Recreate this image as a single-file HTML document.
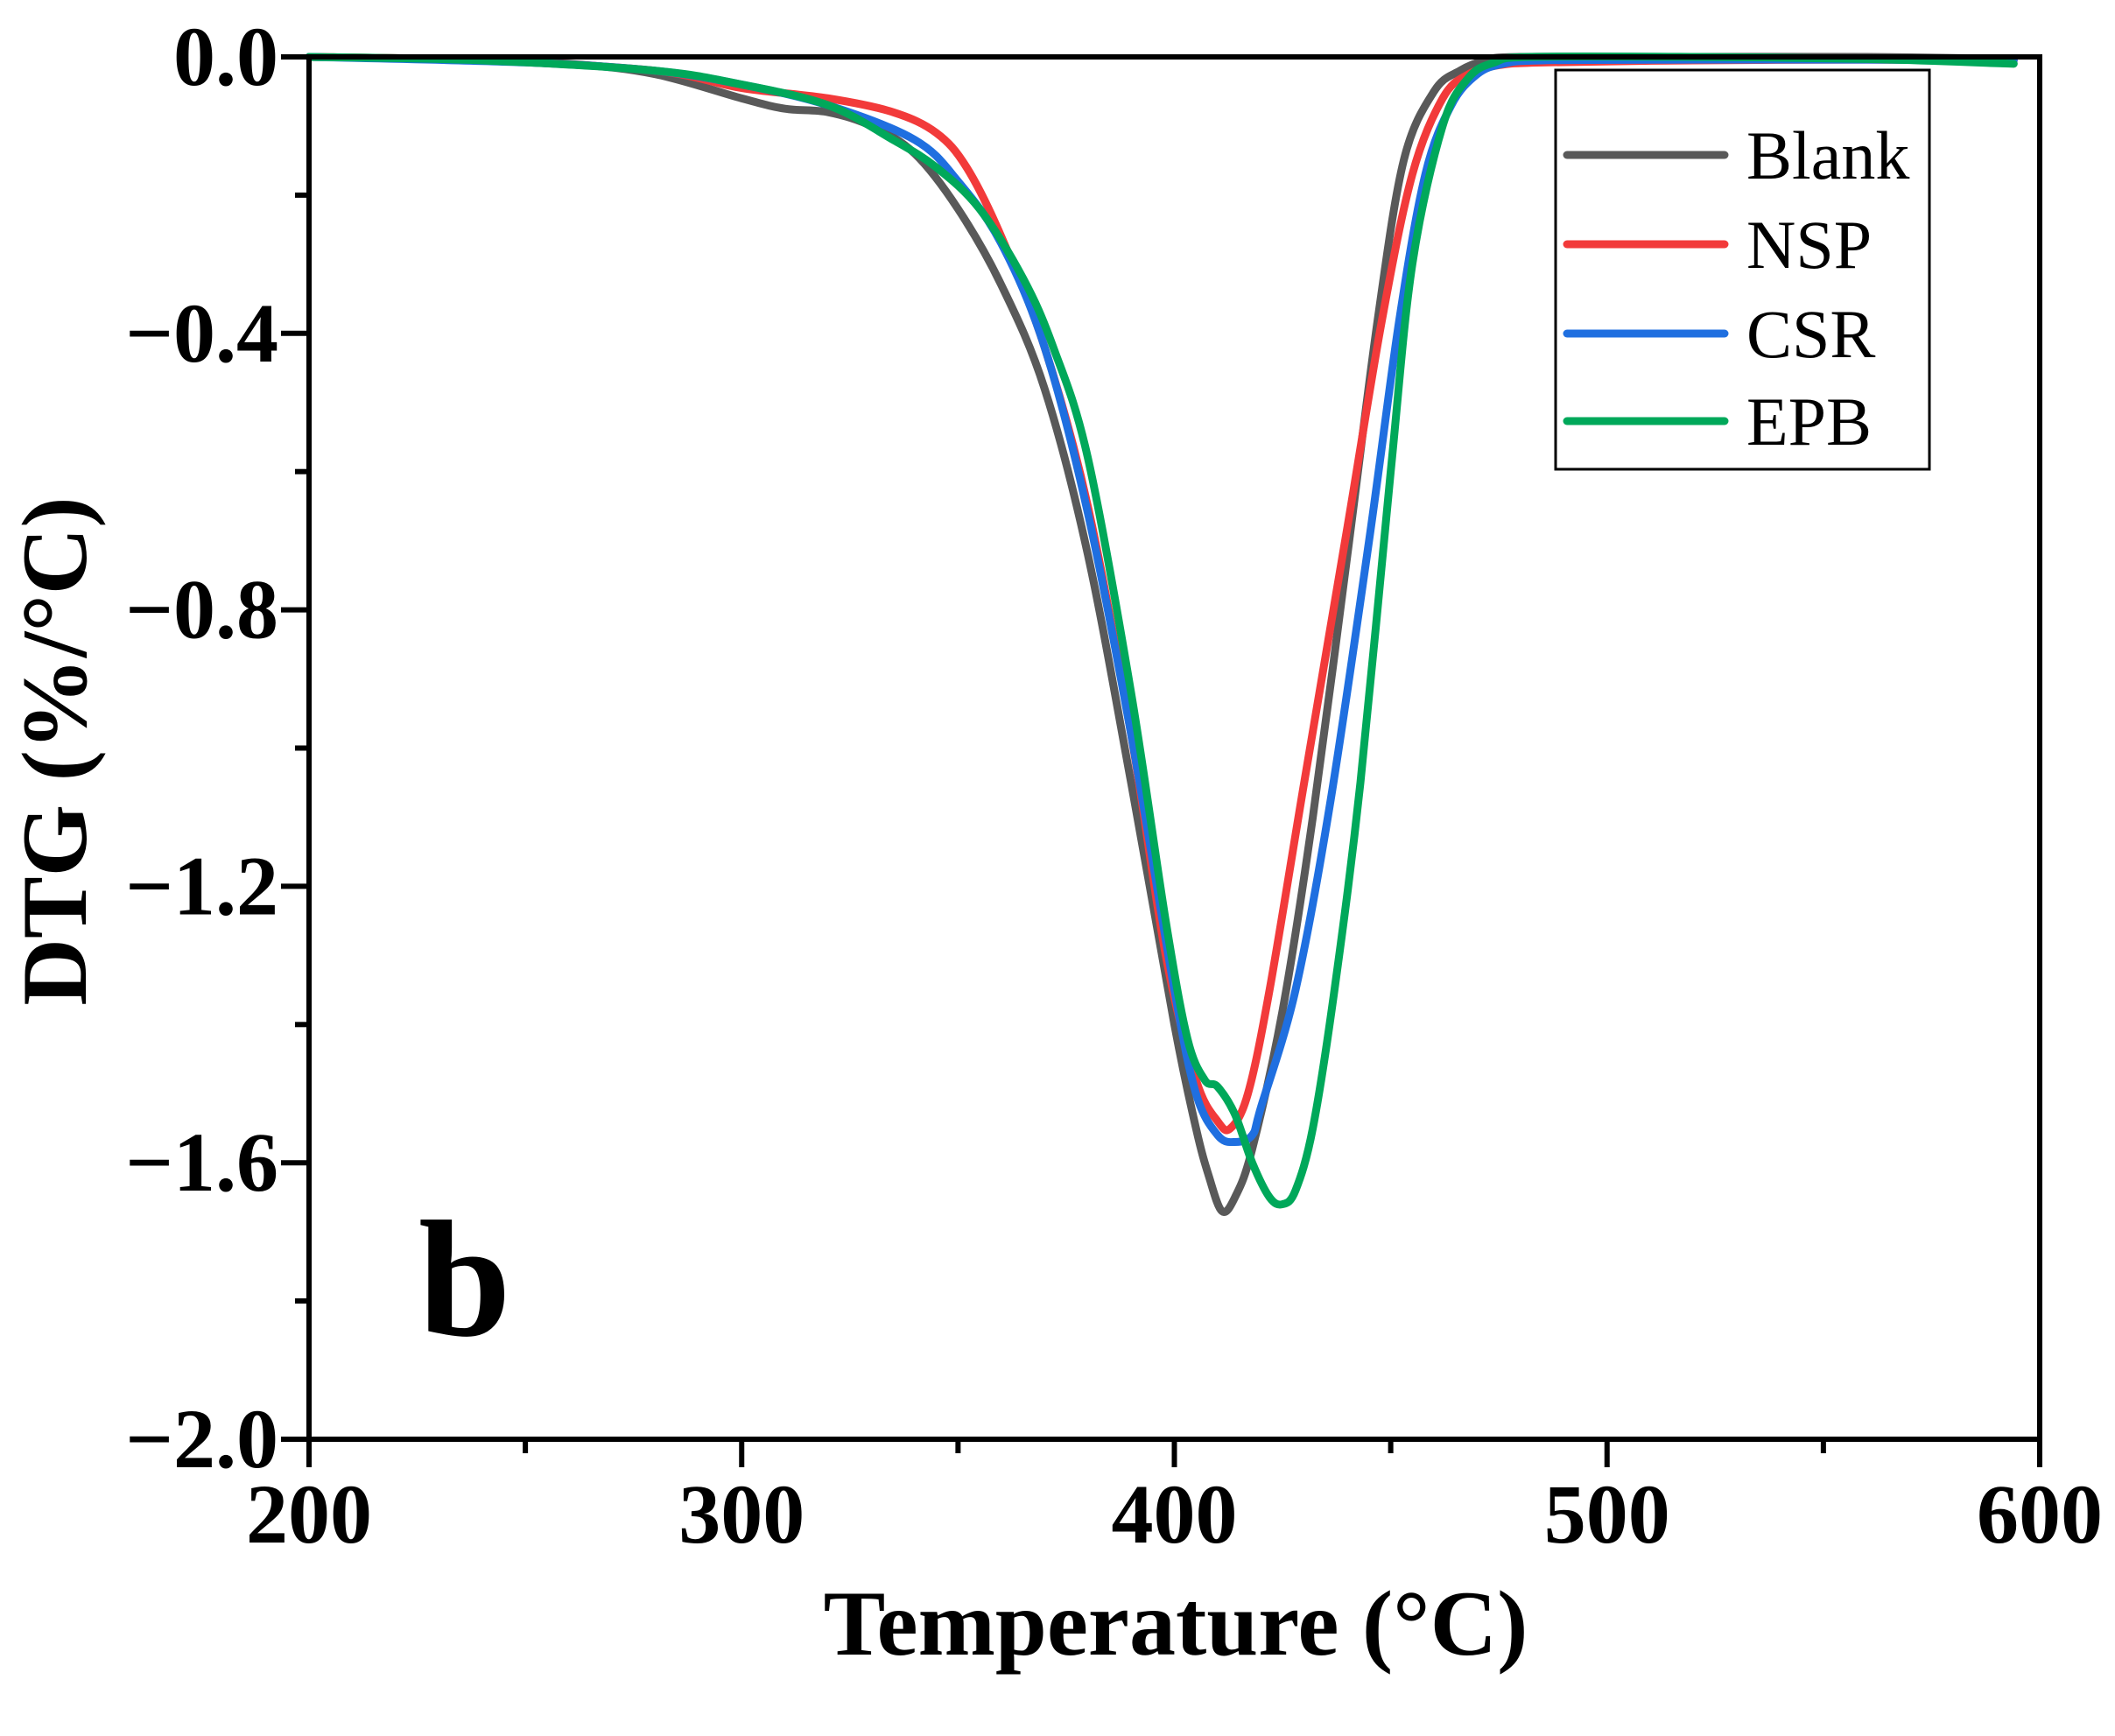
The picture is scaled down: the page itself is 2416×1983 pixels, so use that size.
<!DOCTYPE html>
<html><head><meta charset="utf-8"><style>
html,body{margin:0;padding:0;background:#fff;}
svg{display:block;}
text{font-family:"Liberation Serif",serif;font-weight:bold;fill:#000;}
</style></head><body>
<svg id="s" width="2416" height="1983" viewBox="0 0 2416 1983" xmlns="http://www.w3.org/2000/svg">
<rect width="2416" height="1983" fill="#fff"/>
<g id="curves" fill="none" stroke-width="9" stroke-linejoin="round" stroke-linecap="round"></g>
<rect x="353" y="65" width="1977" height="1579" fill="none" stroke="#000" stroke-width="6"/>
<g id="ticks" stroke="#000" stroke-width="6"></g>
<g id="labels" font-size="96"></g>
<text x="1343" y="1890" font-size="106" text-anchor="middle">Temperature (°C)</text>
<text transform="translate(98,858) rotate(-90)" font-size="106" text-anchor="middle">DTG (%/°C)</text>
<text x="478" y="1525" font-size="190">b</text>
<rect x="1777" y="80" width="427" height="456" fill="#fff" stroke="#000" stroke-width="3"/>
<g stroke-width="9" stroke-linecap="round">
<line x1="1790" y1="177" x2="1970" y2="177" stroke="#595959"/>
<line x1="1790" y1="279" x2="1970" y2="279" stroke="#f23a3a"/>
<line x1="1790" y1="381" x2="1970" y2="381" stroke="#1f6fe0"/>
<line x1="1790" y1="481" x2="1970" y2="481" stroke="#00a85a"/>
</g>
<g font-size="78">
<text x="1995" y="204" style="font-weight:normal">Blank</text>
<text x="1995" y="306" style="font-weight:normal">NSP</text>
<text x="1995" y="408" style="font-weight:normal">CSR</text>
<text x="1995" y="508" style="font-weight:normal">EPB</text>
</g>
</svg>
<script>
var L=353,R=2330,T=65,B=1644;
function X(t){return L+(t-200)*(R-L)/400;}
function Y(v){return T+(-v)*(B-T)/2;}
var ns="http://www.w3.org/2000/svg";
var tk=document.getElementById('ticks'),lb=document.getElementById('labels');
function el(p,n,a,txt){var e=document.createElementNS(ns,n);for(var k in a)e.setAttribute(k,a[k]);if(txt)e.textContent=txt;p.appendChild(e);return e;}
for(var t=200;t<=600;t+=50){var x=X(t),maj=t%100==0;el(tk,'line',{x1:x,y1:B,x2:x,y2:B+(maj?32:16)});
 if(maj)el(lb,'text',{x:x,y:1762,'text-anchor':'middle'},''+t);}
for(var i=0;i<=10;i++){var v=-i*0.2,y=Y(v),maj=i%2==0;el(tk,'line',{x1:L,y1:y,x2:L-(maj?32:16),y2:y});
 if(maj)el(lb,'text',{x:318,y:y+32,'text-anchor':'end'},i==0?'0.0':'\u2212'+(i*0.2).toFixed(1));}
var data={
"#595959":[[200,0],[230,-0.003],[260,-0.01],[280,-0.025],[300,-0.06],[310,-0.075],[320,-0.08],[330,-0.1],[340,-0.14],[350,-0.22],[360,-0.33],[370,-0.48],[380,-0.72],[390,-1.05],[400,-1.4],[405,-1.55],[408,-1.62],[411,-1.67],[414,-1.65],[418,-1.58],[425,-1.38],[432,-1.1],[440,-0.72],[447,-0.38],[453,-0.15],[460,-0.05],[466,-0.02],[472,-0.005],[480,0],[520,0],[560,0],[594,-0.003]],
"#f23a3a":[[200,0],[240,-0.005],[280,-0.02],[300,-0.045],[320,-0.06],[335,-0.08],[345,-0.11],[352,-0.16],[360,-0.26],[370,-0.42],[380,-0.65],[390,-0.98],[398,-1.3],[405,-1.48],[410,-1.54],[413,-1.55],[417,-1.5],[422,-1.35],[430,-1.05],[440,-0.68],[448,-0.38],[455,-0.17],[462,-0.06],[468,-0.025],[475,-0.012],[485,-0.008],[520,-0.005],[560,-0.004],[594,-0.005]],
"#1f6fe0":[[200,0],[250,-0.008],[280,-0.02],[300,-0.04],[320,-0.07],[340,-0.12],[350,-0.18],[360,-0.27],[370,-0.42],[380,-0.66],[390,-0.98],[400,-1.35],[405,-1.5],[410,-1.56],[414,-1.57],[418,-1.56],[420,-1.52],[428,-1.35],[436,-1.08],[445,-0.7],[452,-0.38],[458,-0.17],[464,-0.07],[470,-0.025],[476,-0.01],[485,-0.005],[520,-0.004],[560,-0.004],[594,-0.005]],
"#00a85a":[[200,0],[240,-0.005],[280,-0.02],[300,-0.04],[320,-0.07],[335,-0.12],[345,-0.16],[355,-0.22],[365,-0.32],[372,-0.42],[380,-0.58],[390,-0.92],[398,-1.25],[403,-1.42],[407,-1.48],[410,-1.49],[414,-1.53],[418,-1.6],[422,-1.65],[425,-1.66],[428,-1.64],[432,-1.55],[437,-1.35],[443,-1.05],[450,-0.6],[455,-0.3],[462,-0.1],[468,-0.03],[474,-0.008],[482,0],[520,0],[560,-0.003],[594,-0.01]]};
var g=document.getElementById('curves');
for(var c in data){var p=data[c].map(function(a){return[X(a[0]),Y(a[1])];});
 var d='M'+p[0][0]+','+p[0][1];
 for(var i=0;i<p.length-1;i++){var p0=p[Math.max(i-1,0)],p1=p[i],p2=p[i+1],p3=p[Math.min(i+2,p.length-1)];
  d+=' C'+(p1[0]+(p2[0]-p0[0])/6)+','+(p1[1]+(p2[1]-p0[1])/6)+' '+(p2[0]-(p3[0]-p1[0])/6)+','+(p2[1]-(p3[1]-p1[1])/6)+' '+p2[0]+','+p2[1];}
 el(g,'path',{d:d,stroke:c});}
</script>
</body></html>
